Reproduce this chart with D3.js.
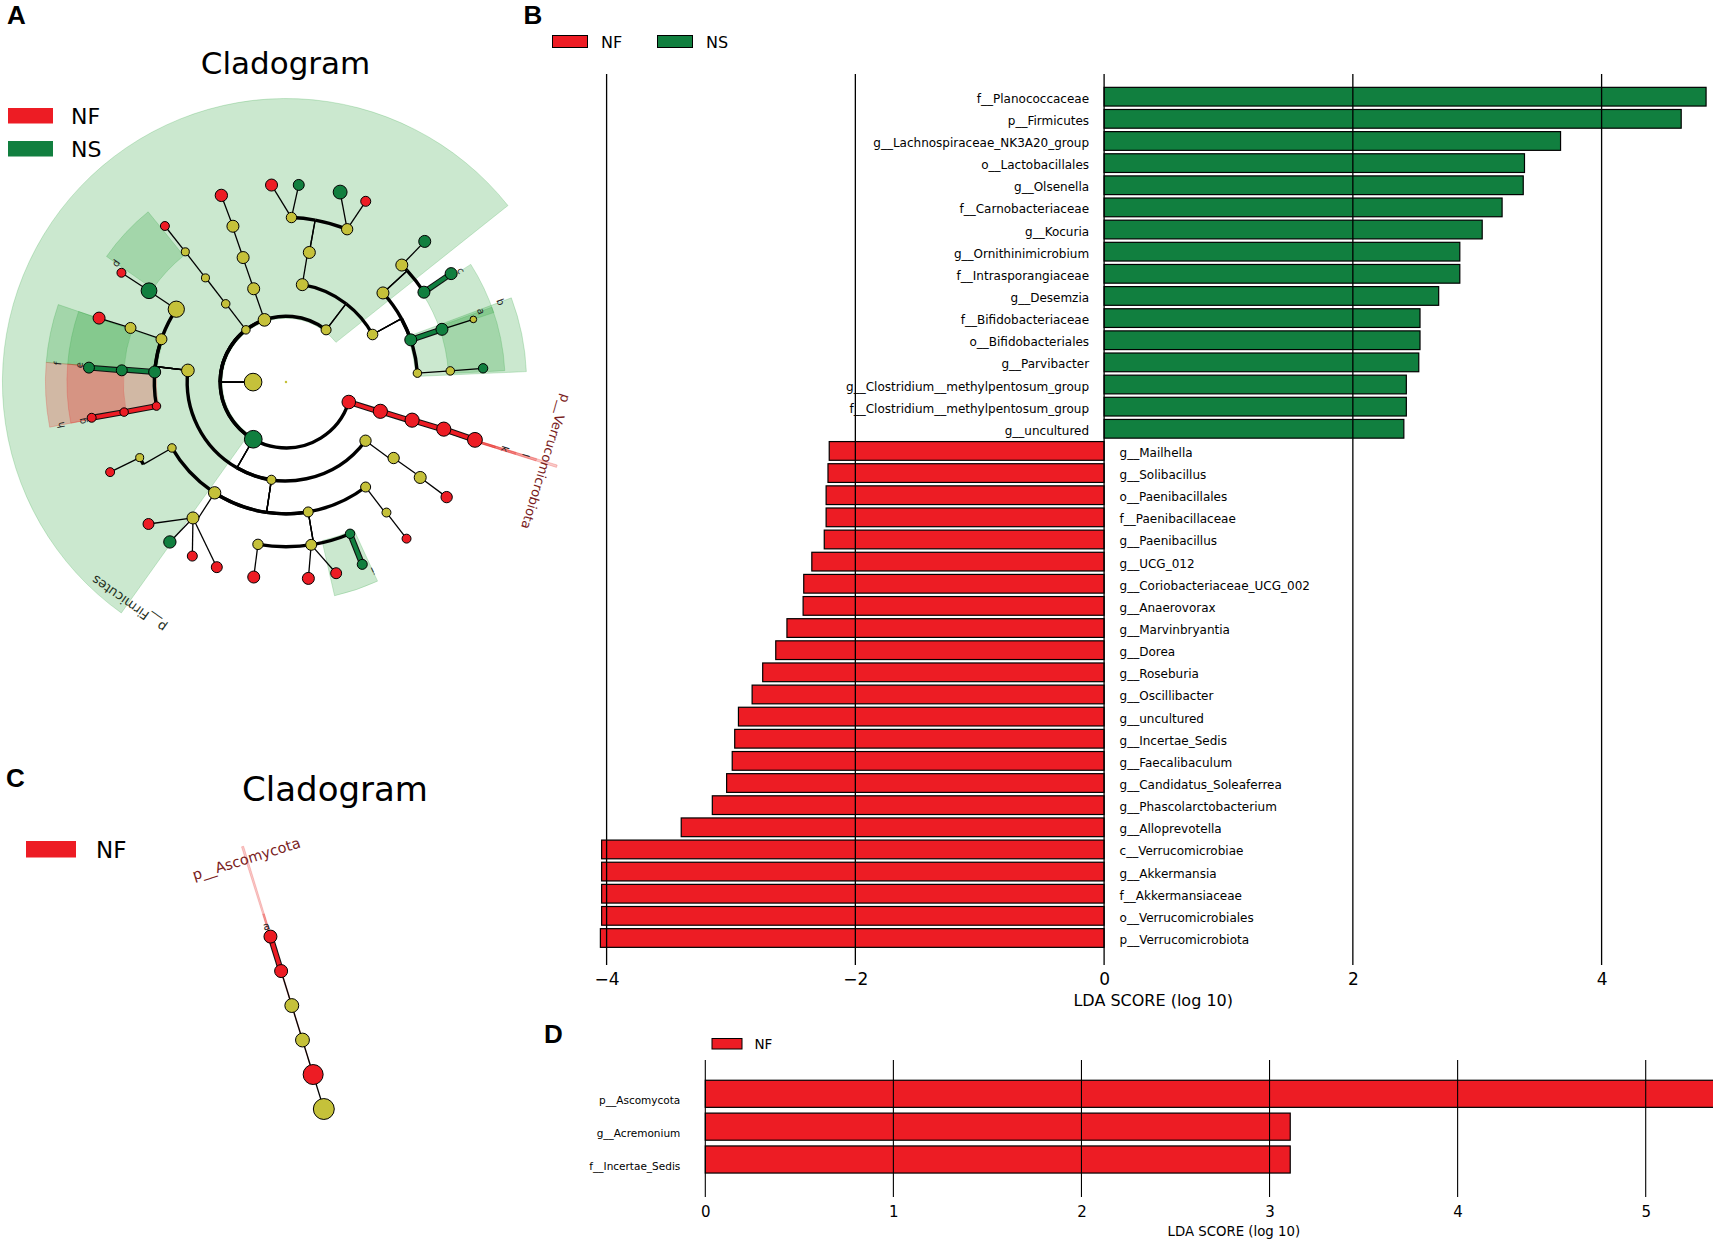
<!DOCTYPE html>
<html>
<head>
<meta charset="utf-8">
<title>LEfSe cladograms and LDA scores</title>
<script src="https://cdn.jsdelivr.net/npm/d3@7"></script>
<style>
    body { margin: 0; background: #fff; overflow: hidden; }
    svg { display: block; font-family: "DejaVu Sans", sans-serif; }
    .tag { font-family: "Liberation Sans", Arial, sans-serif; font-weight: bold; font-size: 26px; }
</style>
</head>
<body>
<svg id="fig" width="1713" height="1239"></svg>
<script>

// LDA scores, bacteria (B)
var nsNames = ["f__Planococcaceae", "p__Firmicutes", "g__Lachnospiraceae_NK3A20_group", "o__Lactobacillales",
    "g__Olsenella", "f__Carnobacteriaceae", "g__Kocuria", "g__Ornithinimicrobium", "f__Intrasporangiaceae",
    "g__Desemzia", "f__Bifidobacteriaceae", "o__Bifidobacteriales", "g__Parvibacter",
    "g__Clostridium__methylpentosum_group", "f__Clostridium__methylpentosum_group", "g__uncultured"];
var nsScores = [4.84, 4.64, 3.67, 3.38, 3.37, 3.20, 3.04, 2.86, 2.86, 2.69, 2.54, 2.54, 2.53, 2.43, 2.43, 2.41];

var nfNames = ["g__Mailhella", "g__Solibacillus", "o__Paenibacillales", "f__Paenibacillaceae", "g__Paenibacillus",
    "g__UCG_012", "g__Coriobacteriaceae_UCG_002", "g__Anaerovorax", "g__Marvinbryantia", "g__Dorea",
    "g__Roseburia", "g__Oscillibacter", "g__uncultured", "g__Incertae_Sedis", "g__Faecalibaculum",
    "g__Candidatus_Soleaferrea", "g__Phascolarctobacterium", "g__Alloprevotella", "c__Verrucomicrobiae",
    "g__Akkermansia", "f__Akkermansiaceae", "o__Verrucomicrobiales", "p__Verrucomicrobiota"];
var nfScores = [-2.21, -2.22, -2.235, -2.235, -2.25, -2.35, -2.415, -2.42, -2.55, -2.64, -2.745, -2.83, -2.94,
    -2.97, -2.99, -3.035, -3.15, -3.40, -4.04, -4.04, -4.04, -4.04, -4.05];
var bTicks = [-4, -2, 0, 2, 4];

// LDA scores, fungi (D)
var dNames = ["p__Ascomycota", "g__Acremonium", "f__Incertae_Sedis"];
var dScores = [5.62, 3.11, 3.11];
var dTicks = [0, 1, 2, 3, 4, 5];

// cladogram A: taxonomic level, angle on the circle (degrees), enriched group, relative abundance
var cladeNodes = [
    {id: "root", parent: null, level: 0, angle: 0, cls: "", abund: 1.5},
    {id: "k1", parent: "root", level: 1, angle: 180, cls: "", abund: 78},
    {id: "p1", parent: "k1", level: 2, angle: 17.6, cls: "NF", abund: 46},
    {id: "p2", parent: "k1", level: 2, angle: 119.8, cls: "NS", abund: 78},
    {id: "p3", parent: "k1", level: 2, angle: 232.5, cls: "", abund: 18},
    {id: "p4", parent: "k1", level: 2, angle: 250.9, cls: "", abund: 40},
    {id: "p5", parent: "k1", level: 2, angle: 307.5, cls: "", abund: 25},
    {id: "c1", parent: "p1", level: 3, angle: 17.2, cls: "NF", abund: 50},
    {id: "c2", parent: "p2", level: 3, angle: 36.4, cls: "", abund: 32},
    {id: "c3", parent: "p2", level: 3, angle: 98.5, cls: "", abund: 21},
    {id: "c4", parent: "p2", level: 3, angle: 186.8, cls: "", abund: 40},
    {id: "c5", parent: "p3", level: 3, angle: 232.4, cls: "", abund: 18},
    {id: "c6", parent: "p4", level: 3, angle: 250.9, cls: "", abund: 36},
    {id: "c7", parent: "p5", level: 3, angle: 279.5, cls: "", abund: 36},
    {id: "c8", parent: "p5", level: 3, angle: 331.2, cls: "", abund: 28},
    {id: "o1", parent: "c1", level: 4, angle: 16.8, cls: "NF", abund: 50},
    {id: "o2", parent: "c2", level: 4, angle: 35.2, cls: "", abund: 32},
    {id: "o3", parent: "c3", level: 4, angle: 52.8, cls: "", abund: 25},
    {id: "o4", parent: "c3", level: 4, angle: 80.3, cls: "", abund: 25},
    {id: "o5", parent: "c3", level: 4, angle: 122.8, cls: "", abund: 38},
    {id: "o6", parent: "c3", level: 4, angle: 150, cls: "", abund: 18},
    {id: "o7", parent: "c4", level: 4, angle: 169.5, cls: "NF", abund: 18},
    {id: "o8", parent: "c4", level: 4, angle: 184.4, cls: "NS", abund: 36},
    {id: "o9", parent: "c4", level: 4, angle: 199, cls: "", abund: 30},
    {id: "o10", parent: "c4", level: 4, angle: 213.6, cls: "", abund: 66},
    {id: "o11", parent: "c5", level: 4, angle: 232.3, cls: "", abund: 16},
    {id: "o12", parent: "c6", level: 4, angle: 251, cls: "", abund: 36},
    {id: "o13", parent: "c7", level: 4, angle: 280.2, cls: "", abund: 36},
    {id: "o14", parent: "c8", level: 4, angle: 317.4, cls: "", abund: 36},
    {id: "o15", parent: "c8", level: 4, angle: 341.3, cls: "NS", abund: 36},
    {id: "o16", parent: "c8", level: 4, angle: 356.1, cls: "", abund: 18},
    {id: "f1", parent: "o1", level: 5, angle: 16.6, cls: "NF", abund: 50},
    {id: "f2", parent: "o2", level: 5, angle: 35.4, cls: "", abund: 36},
    {id: "f3", parent: "o3", level: 5, angle: 52.4, cls: "", abund: 20},
    {id: "f4", parent: "o4", level: 5, angle: 99.8, cls: "", abund: 27},
    {id: "f5", parent: "o4", level: 5, angle: 81.2, cls: "", abund: 30},
    {id: "f6", parent: "o4", level: 5, angle: 67.1, cls: "NS", abund: 22},
    {id: "f7", parent: "o5", level: 5, angle: 124.4, cls: "", abund: 36},
    {id: "f8", parent: "o6", level: 5, angle: 152.7, cls: "", abund: 16},
    {id: "f9", parent: "o7", level: 5, angle: 169.5, cls: "NF", abund: 18},
    {id: "f10", parent: "o8", level: 5, angle: 184.1, cls: "NS", abund: 30},
    {id: "f11", parent: "o9", level: 5, angle: 199.2, cls: "", abund: 30},
    {id: "f12", parent: "o10", level: 5, angle: 213.7, cls: "NS", abund: 62},
    {id: "f13", parent: "o11", level: 5, angle: 232.3, cls: "", abund: 16},
    {id: "f14", parent: "o12", level: 5, angle: 251.2, cls: "", abund: 36},
    {id: "f15", parent: "o13", level: 5, angle: 271.9, cls: "", abund: 27},
    {id: "f16", parent: "o13", level: 5, angle: 291.8, cls: "", abund: 32},
    {id: "f17", parent: "o14", level: 5, angle: 314.7, cls: "", abund: 36},
    {id: "f18", parent: "o14", level: 5, angle: 326.9, cls: "NS", abund: 36},
    {id: "f19", parent: "o15", level: 5, angle: 341.3, cls: "NS", abund: 36},
    {id: "f20", parent: "o16", level: 5, angle: 356.1, cls: "", abund: 18},
    {id: "g1", parent: "f1", level: 6, angle: 17.0, cls: "NF", abund: 55},
    {id: "g2", parent: "f2", level: 6, angle: 35.6, cls: "NF", abund: 32},
    {id: "g3", parent: "f3", level: 6, angle: 52.4, cls: "NF", abund: 20},
    {id: "g4", parent: "f4", level: 6, angle: 99.4, cls: "NF", abund: 36},
    {id: "g5", parent: "f5", level: 6, angle: 83.5, cls: "NF", abund: 36},
    {id: "g6", parent: "f5", level: 6, angle: 75.3, cls: "NF", abund: 30},
    {id: "g7", parent: "f6", level: 6, angle: 67.3, cls: "NS", abund: 25},
    {id: "g8", parent: "f7", level: 6, angle: 134.1, cls: "NF", abund: 30},
    {id: "g9", parent: "f7", level: 6, angle: 126, cls: "NS", abund: 38},
    {id: "g10", parent: "f7", level: 6, angle: 118.3, cls: "NF", abund: 25},
    {id: "g11", parent: "f7", level: 6, angle: 110.5, cls: "NF", abund: 30},
    {id: "g12", parent: "f8", level: 6, angle: 152.9, cls: "NF", abund: 20},
    {id: "g13", parent: "f9", level: 6, angle: 169.6, cls: "NF", abund: 20},
    {id: "g14", parent: "f10", level: 6, angle: 184.2, cls: "NS", abund: 30},
    {id: "g15", parent: "f11", level: 6, angle: 198.9, cls: "NF", abund: 36},
    {id: "g16", parent: "f12", level: 6, angle: 213.6, cls: "NF", abund: 20},
    {id: "g17", parent: "f13", level: 6, angle: 232.2, cls: "NF", abund: 20},
    {id: "g18", parent: "f14", level: 6, angle: 250.9, cls: "NF", abund: 38},
    {id: "g19", parent: "f15", level: 6, angle: 265.8, cls: "NF", abund: 36},
    {id: "g20", parent: "f15", level: 6, angle: 273.7, cls: "NS", abund: 30},
    {id: "g21", parent: "f16", level: 6, angle: 285.9, cls: "NS", abund: 48},
    {id: "g22", parent: "f16", level: 6, angle: 293.8, cls: "NF", abund: 25},
    {id: "g23", parent: "f17", level: 6, angle: 314.6, cls: "NS", abund: 36},
    {id: "g24", parent: "f18", level: 6, angle: 326.7, cls: "NS", abund: 36},
    {id: "g25", parent: "f19", level: 6, angle: 341.5, cls: "", abund: 11},
    {id: "g26", parent: "f20", level: 6, angle: 356, cls: "NS", abund: 22}
];

// shaded biomarker clades A: angular span, level the shading starts at, letter key
var cladeSectors = [
    {from: 125.5, to: 321.5, level: 2, cls: "NS", letter: ""},
    {from: 17.0, to: 17.5, level: 2, cls: "NF", letter: ""},
    {from: 17.0, to: 17.5, level: 3, cls: "NF", letter: "l"},
    {from: 17.0, to: 17.5, level: 4, cls: "NF", letter: "k"},
    {from: 17.0, to: 17.5, level: 5, cls: "NF", letter: ""},
    {from: 339.5, to: 357.5, level: 4, cls: "NS", letter: "b"},
    {from: 340, to: 357, level: 5, cls: "NS", letter: "a"},
    {from: 327.5, to: 341.5, level: 5, cls: "NS", letter: "c"},
    {from: 215, to: 231, level: 5, cls: "NS", letter: "d"},
    {from: 184.7, to: 198.8, level: 5, cls: "NS", letter: "e"},
    {from: 184.7, to: 198.8, level: 4, cls: "NS", letter: "f"},
    {from: 169.2, to: 184.7, level: 5, cls: "NF", letter: "g"},
    {from: 169.2, to: 184.7, level: 4, cls: "NF", letter: "h"},
    {from: 65.3, to: 77.2, level: 5, cls: "NS", letter: "i"}
];
var cladeLabels = [
    {text: "p__Verrucomicrobiota", angle: 17.0, cls: "NF"},
    {text: "p__Firmicutes", angle: 125.3, cls: "NS"}
];

// cladogram C
var fungiNodes = [
    {id: "k", parent: null, level: 1, angle: 252.8, cls: "", abund: 91},
    {id: "p", parent: "k", level: 2, angle: 252.8, cls: "NF", abund: 83},
    {id: "c", parent: "p", level: 3, angle: 252.8, cls: "", abund: 40},
    {id: "o", parent: "c", level: 4, angle: 252.8, cls: "", abund: 40},
    {id: "f", parent: "o", level: 5, angle: 252.8, cls: "NF", abund: 35},
    {id: "g", parent: "f", level: 6, angle: 252.8, cls: "NF", abund: 35}
];
var fungiSectors = [
    {from: 252.6, to: 253.0, level: 2, cls: "NF", letter: ""},
    {from: 252.6, to: 253.0, level: 5, cls: "NF", letter: "a"}
];
var fungiLabels = [{text: "p__Ascomycota", angle: 252.8, cls: "NF"}];

var colors = {NF: "#ed1c24", NS: "#117f3f", none: "#c5c13a"};
var shade = {NF: "#e8231f", NS: "#25a035"};
var labelInk = {NF: "#7a1d1d", NS: "#1f2f22"};

var svg = d3.select("#fig");

function drawClado(cfg) {
    var g = svg.append("g").attr("transform", "translate(" + cfg.cx + "," + cfg.cy + ")");
    var r = d3.scaleLinear().domain([0, 1]).range([0, cfg.step]);
    var size = d3.scaleSqrt().domain([0, 100]).range([0, cfg.step * 0.304]);
    var rad = function (deg) { return deg * Math.PI / 180; };
    var at = function (radius, ang) { return [radius * Math.cos(rad(ang)), radius * Math.sin(rad(ang))]; };
    var pos = function (lev, ang) { return at(r(lev), ang); };
    var outer = function (lev) { return r(6 + 0.653 * (6 - lev)); };

    var byId = {};
    cfg.nodes.forEach(function (n) { byId[n.id] = n; });

    var arc = d3.arc();
    g.selectAll(".sector").data(cfg.sectors).enter().append("path")
        .attr("d", function (s) {
            return arc({innerRadius: r(s.level) - 2, outerRadius: outer(s.level),
                startAngle: rad(s.from + 90), endAngle: rad(s.to + 90)});
        })
        .attr("fill", function (s) { return shade[s.cls]; })
        .attr("fill-opacity", 0.24)
        .attr("stroke", function (s) { return shade[s.cls]; })
        .attr("stroke-opacity", 0.22)
        .attr("stroke-width", 1);

    var edges = cfg.nodes.filter(function (n) { return n.parent && byId[n.parent].level > 0; });

    function radial(n) {
        var p = byId[n.parent];
        return "M" + pos(p.level, p.angle) + "L" + pos(n.level, p.angle);
    }
    function ring(n) {
        var p = byId[n.parent], path = d3.path();
        path.arc(0, 0, r(n.level), rad(Math.min(p.angle, n.angle)), rad(Math.max(p.angle, n.angle)));
        return path.toString();
    }
    function straight(n) {
        var p = byId[n.parent];
        return "M" + pos(p.level, p.angle) + "L" + pos(n.level, n.angle);
    }

    // plain black branches
    g.selectAll(".thin").data(edges).enter().append("path")
        .attr("d", function (n) { return n.level === 6 ? straight(n) : radial(n); })
        .attr("fill", "none").attr("stroke", "#000").attr("stroke-width", 1.3);
    g.selectAll(".ring").data(edges.filter(function (n) { return n.level < 6; })).enter().append("path")
        .attr("d", ring)
        .attr("fill", "none").attr("stroke", "#000").attr("stroke-width", 3.4);

    // branches inside a biomarker clade
    var coloured = edges.filter(function (n) { return n.cls && n.cls === byId[n.parent].cls; });
    var branchPath = function (n) { return n.level === 6 ? straight(n) : radial(n) + ring(n); };
    g.selectAll(".cedge-o").data(coloured).enter().append("path")
        .attr("d", branchPath)
        .attr("fill", "none").attr("stroke", "#111").attr("stroke-width", 6);
    g.selectAll(".cedge").data(coloured).enter().append("path")
        .attr("d", branchPath)
        .attr("fill", "none").attr("stroke", function (n) { return colors[n.cls]; }).attr("stroke-width", 3.8);

    g.selectAll(".node").data(cfg.nodes).enter().append("circle")
        .attr("cx", function (n) { return pos(n.level, n.angle)[0]; })
        .attr("cy", function (n) { return pos(n.level, n.angle)[1]; })
        .attr("r", function (n) { return size(n.abund); })
        .attr("fill", function (n) { return colors[n.cls || "none"]; })
        .attr("stroke", "#000")
        .attr("stroke-width", function (n) { return n.level === 0 ? 0 : 1; });

    g.selectAll(".letter").data(cfg.sectors.filter(function (s) { return s.letter; })).enter().append("text")
        .attr("transform", function (s) {
            var p = at(outer(s.level) - 0.35 * cfg.step, s.from);
            return "translate(" + p + ") rotate(" + (s.from + 90) + ")";
        })
        .attr("text-anchor", "middle")
        .attr("dominant-baseline", "central")
        .attr("font-size", cfg.letterSize)
        .attr("fill", "#222")
        .text(function (s) { return s.letter; });

    g.selectAll(".clade-label").data(cfg.labels).enter().append("text")
        .attr("transform", function (d) {
            return "translate(" + pos(8.25, d.angle) + ") rotate(" + (d.angle + 90) + ")";
        })
        .attr("text-anchor", "middle")
        .attr("dominant-baseline", "central")
        .attr("font-size", cfg.labelSize)
        .attr("fill", function (d) { return labelInk[d.cls]; })
        .text(function (d) { return d.text; });
}

// ---- A ----
svg.append("text").attr("class", "tag").attr("x", 7).attr("y", 24.3).text("A");
svg.append("text").attr("x", 285.5).attr("y", 74).attr("text-anchor", "middle").attr("font-size", 31).text("Cladogram");
[["NF", 108], ["NS", 141]].forEach(function (d) {
    svg.append("rect").attr("x", 8).attr("y", d[1]).attr("width", 45).attr("height", 15.5).attr("fill", colors[d[0]]);
    svg.append("text").attr("x", 71).attr("y", d[1] + 16).attr("font-size", 22).text(d[0]);
});
drawClado({cx: 286, cy: 382.1, step: 32.93, nodes: cladeNodes, sectors: cladeSectors, labels: cladeLabels,
    letterSize: 10, labelSize: 13});

// ---- C ----
svg.append("text").attr("class", "tag").attr("x", 6).attr("y", 786.7).text("C");
svg.append("text").attr("x", 335).attr("y", 801).attr("text-anchor", "middle").attr("font-size", 34).text("Cladogram");
svg.append("rect").attr("x", 26).attr("y", 841).attr("width", 50).attr("height", 16.5).attr("fill", colors.NF);
svg.append("text").attr("x", 96).attr("y", 857.5).attr("font-size", 23).text("NF");
drawClado({cx: 334.5, cy: 1143.5, step: 36.1, nodes: fungiNodes, sectors: fungiSectors, labels: fungiLabels,
    letterSize: 11, labelSize: 14.5});

// ---- B ----
svg.append("text").attr("class", "tag").attr("x", 523.5).attr("y", 24.3).text("B");

var bNames = nsNames.concat(nfNames);
var bScores = nsScores.concat(nfScores);
var xB = d3.scaleLinear().domain([-4, 4]).range([606.6, 1601.6]);
var yB = d3.scalePoint().domain(d3.range(bNames.length)).range([96.7, 938]);
var barB = yB.step() * 0.845;
var gB = svg.append("g");

gB.selectAll(".bar").data(bScores).enter().append("rect")
    .attr("x", function (v) { return xB(Math.min(0, v)); })
    .attr("y", function (v, i) { return yB(i) - barB / 2; })
    .attr("width", function (v) { return Math.abs(xB(v) - xB(0)); })
    .attr("height", barB)
    .attr("fill", function (v) { return v > 0 ? colors.NS : colors.NF; })
    .attr("stroke", "#000").attr("stroke-width", 1.2);

gB.selectAll(".grid").data(bTicks).enter().append("line")
    .attr("x1", xB).attr("x2", xB).attr("y1", 74).attr("y2", 965)
    .attr("stroke", "#000").attr("stroke-width", 1.3);

gB.selectAll(".name").data(bNames).enter().append("text")
    .attr("x", function (d, i) { return bScores[i] > 0 ? xB(0) - 15 : xB(0) + 15.5; })
    .attr("y", function (d, i) { return yB(i) + 2; })
    .attr("text-anchor", function (d, i) { return bScores[i] > 0 ? "end" : "start"; })
    .attr("dominant-baseline", "central")
    .attr("font-size", 12)
    .text(function (d) { return d; });

var axB = gB.append("g").attr("transform", "translate(0,965)")
    .call(d3.axisBottom(xB).tickValues(bTicks).tickSize(0).tickPadding(7.5));
axB.select(".domain").remove();
axB.attr("font-family", "DejaVu Sans").attr("font-size", 17);

gB.append("text")
    .attr("x", (xB(d3.min(bScores)) + xB(d3.max(bScores))) / 2).attr("y", 1005.5)
    .attr("text-anchor", "middle").attr("font-size", 16).text("LDA SCORE (log 10)");

[["NF", 552.5, 601], ["NS", 657.5, 706]].forEach(function (d) {
    gB.append("rect").attr("x", d[1]).attr("y", 35.5).attr("width", 35).attr("height", 12)
        .attr("fill", colors[d[0]]).attr("stroke", "#000").attr("stroke-width", 1);
    gB.append("text").attr("x", d[2]).attr("y", 47.5).attr("font-size", 16).text(d[0]);
});

// ---- D ----
svg.append("text").attr("class", "tag").attr("x", 544).attr("y", 1043).text("D");

var xD = d3.scaleLinear().domain([0, 5]).range([705.3, 1645.7]);
var yD = d3.scalePoint().domain(d3.range(dNames.length)).range([1093.8, 1159.5]);
var barD = yD.step() * 0.825;
var gD = svg.append("g");

gD.selectAll(".bar").data(dScores).enter().append("rect")
    .attr("x", xD(0))
    .attr("y", function (v, i) { return yD(i) - barD / 2; })
    .attr("width", function (v) { return xD(v) - xD(0); })
    .attr("height", barD)
    .attr("fill", colors.NF)
    .attr("stroke", "#000").attr("stroke-width", 1.2);

gD.selectAll(".grid").data(dTicks).enter().append("line")
    .attr("x1", xD).attr("x2", xD).attr("y1", 1060).attr("y2", 1197)
    .attr("stroke", "#000").attr("stroke-width", 1.1);

gD.selectAll(".name").data(dNames).enter().append("text")
    .attr("x", xD(0) - 25)
    .attr("y", function (d, i) { return yD(i) + 6; })
    .attr("text-anchor", "end")
    .attr("dominant-baseline", "central")
    .attr("font-size", 10.5)
    .text(function (d) { return d; });

var axD = gD.append("g").attr("transform", "translate(0,1197)")
    .call(d3.axisBottom(xD).tickValues(dTicks).tickFormat(d3.format("d")).tickSize(0).tickPadding(9));
axD.select(".domain").remove();
axD.attr("font-family", "DejaVu Sans").attr("font-size", 15);

gD.append("text")
    .attr("x", (xD(0) + xD(d3.max(dScores))) / 2).attr("y", 1235.5)
    .attr("text-anchor", "middle").attr("font-size", 13.3).text("LDA SCORE (log 10)");

gD.append("rect").attr("x", 712).attr("y", 1038.5).attr("width", 30).attr("height", 10.5)
    .attr("fill", colors.NF).attr("stroke", "#000").attr("stroke-width", 1);
gD.append("text").attr("x", 754.5).attr("y", 1049).attr("font-size", 13.5).text("NF");

</script>
</body>
</html>
